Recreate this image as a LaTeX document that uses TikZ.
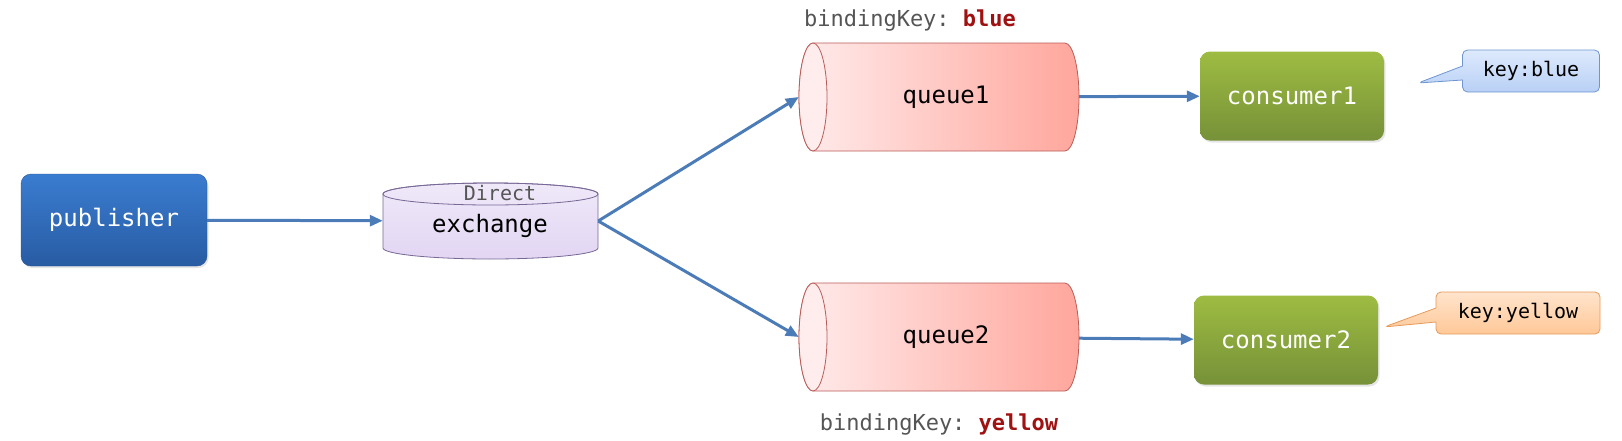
\documentclass[tikz,border=0pt]{standalone}
\usepackage{fontspec}
\setmonofont{DejaVu Sans Mono}
\usetikzlibrary{arrows.meta,shapes.callouts,shadows}

\definecolor{linkblue}{RGB}{76,124,184}
\definecolor{pubtop}{RGB}{58,124,208}
\definecolor{pubbot}{RGB}{40,92,163}
\definecolor{pubedge}{RGB}{38,86,150}
\definecolor{exfill}{RGB}{226,214,243}
\definecolor{exedge}{RGB}{120,104,150}
\definecolor{qleft}{RGB}{255,236,236}
\definecolor{qright}{RGB}{255,166,156}
\definecolor{qedge}{RGB}{184,92,88}
\definecolor{contop}{RGB}{158,188,66}
\definecolor{conbot}{RGB}{118,145,56}
\definecolor{bluetop}{RGB}{222,234,253}
\definecolor{bluebot}{RGB}{184,208,245}
\definecolor{blueedge}{RGB}{110,149,207}
\definecolor{yeltop}{RGB}{255,228,204}
\definecolor{yelbot}{RGB}{255,200,152}
\definecolor{yeledge}{RGB}{229,154,90}
\definecolor{keyred}{RGB}{160,18,18}
\definecolor{keygray}{RGB}{85,85,85}

\tikzset{
  link/.style={draw=linkblue, line width=3pt, -{Triangle[length=13pt,width=11pt]}},
  boxfont/.style={font=\ttfamily\fontsize{24}{28}\selectfont},
  pubbox/.style={boxfont, rounded corners=10pt, top color=pubtop, bottom color=pubbot,
    draw=pubedge, text=white, minimum width=186pt, minimum height=92pt,
    drop shadow={opacity=0.2,shadow xshift=1.5pt,shadow yshift=-2pt}},
  conbox/.style={boxfont, rounded corners=10pt, top color=contop, bottom color=conbot,
    draw=none, text=white, minimum width=184pt, minimum height=89pt,
    drop shadow={opacity=0.2,shadow xshift=1.5pt,shadow yshift=-2pt}},
  cylspot/.style={boxfont, minimum width=#1, inner sep=0pt},
  queuebody/.style={left color=qleft, right color=qright, draw=qedge, line width=0.8pt},
  queueend/.style={fill=qleft, draw=qedge, line width=0.8pt},
  keynote/.style={rectangle callout, rounded corners=5pt, line width=0.8pt,
    font=\ttfamily\fontsize{20}{24}\selectfont, minimum height=42pt, callout pointer width=14pt},
  bindlabel/.style={font=\ttfamily\fontsize{22}{26}\selectfont, text=keygray}
}

\begin{document}
\begin{tikzpicture}[x=1pt,y=-1pt]
  \useasboundingbox (0,0) rectangle (1622,440);

  % exchange cylinder
  \path[top color=exfill!55!white, bottom color=exfill, draw=exedge, line width=0.8pt]
    (383,194) -- (383,248) arc[start angle=180,end angle=0,x radius=107.5,y radius=11]
    -- (598,194) arc[start angle=0,end angle=-180,x radius=107.5,y radius=11] -- cycle;
  \draw[exedge, line width=0.8pt] (490.5,194) ellipse[x radius=107.5,y radius=11];

  % queues
  \begin{scope}[shift={(939,97)}]
    \path[queuebody] (-126,-54) -- (126,-54) arc[start angle=-90,end angle=90,x radius=14,y radius=54]
      -- (-126,54) arc[start angle=90,end angle=270,x radius=14,y radius=54] -- cycle;
    \draw[queueend] (-126,0) ellipse[x radius=14,y radius=54];
  \end{scope}
  \begin{scope}[shift={(939,337)}]
    \path[queuebody] (-126,-54) -- (126,-54) arc[start angle=-90,end angle=90,x radius=14,y radius=54]
      -- (-126,54) arc[start angle=90,end angle=270,x radius=14,y radius=54] -- cycle;
    \draw[queueend] (-126,0) ellipse[x radius=14,y radius=54];
  \end{scope}

  \node[pubbox] (pub) at (114,220) {publisher};
  \node[cylspot=215pt, minimum height=76pt] (ex) at (490.5,221) {};
  \node[boxfont] (exname) at (490,226) {exchange};
  \node[font=\ttfamily\fontsize{20}{24}\selectfont, text=keygray] (exkind) at (500,193) {Direct};
  \node[cylspot=280pt, minimum height=108pt] (q1) at (939,97) {\hspace{14pt}queue1};
  \node[cylspot=280pt, minimum height=108pt] (q2) at (939,337) {\hspace{14pt}queue2};
  \node[conbox] (c1) at (1292,96) {consumer1};
  \node[conbox] (c2) at (1286,340) {consumer2};

  \node[bindlabel] (bind1) at (910,21) {bindingKey: \textcolor{keyred}{\textbf{blue}}};
  \node[bindlabel] (bind2) at (939,424) {bindingKey: \textcolor{keyred}{\textbf{yellow}}};

  \node[keynote, top color=bluetop, bottom color=bluebot, draw=blueedge, minimum width=137pt,
    callout absolute pointer={(1418,83)}] (note1) at (1531,71) {key:blue};
  \node[keynote, top color=yeltop, bottom color=yelbot, draw=yeledge, minimum width=164pt,
    callout absolute pointer={(1384,327)}] (note2) at (1518,313) {key:yellow};

  \draw[link] (pub) -- (ex);
  \draw[link] (ex.east) -- (q1.west);
  \draw[link] (ex.east) -- (q2.west);
  \draw[link] (q1) -- (c1);
  \draw[link] (q2) -- (c2);
\end{tikzpicture}
\end{document}
